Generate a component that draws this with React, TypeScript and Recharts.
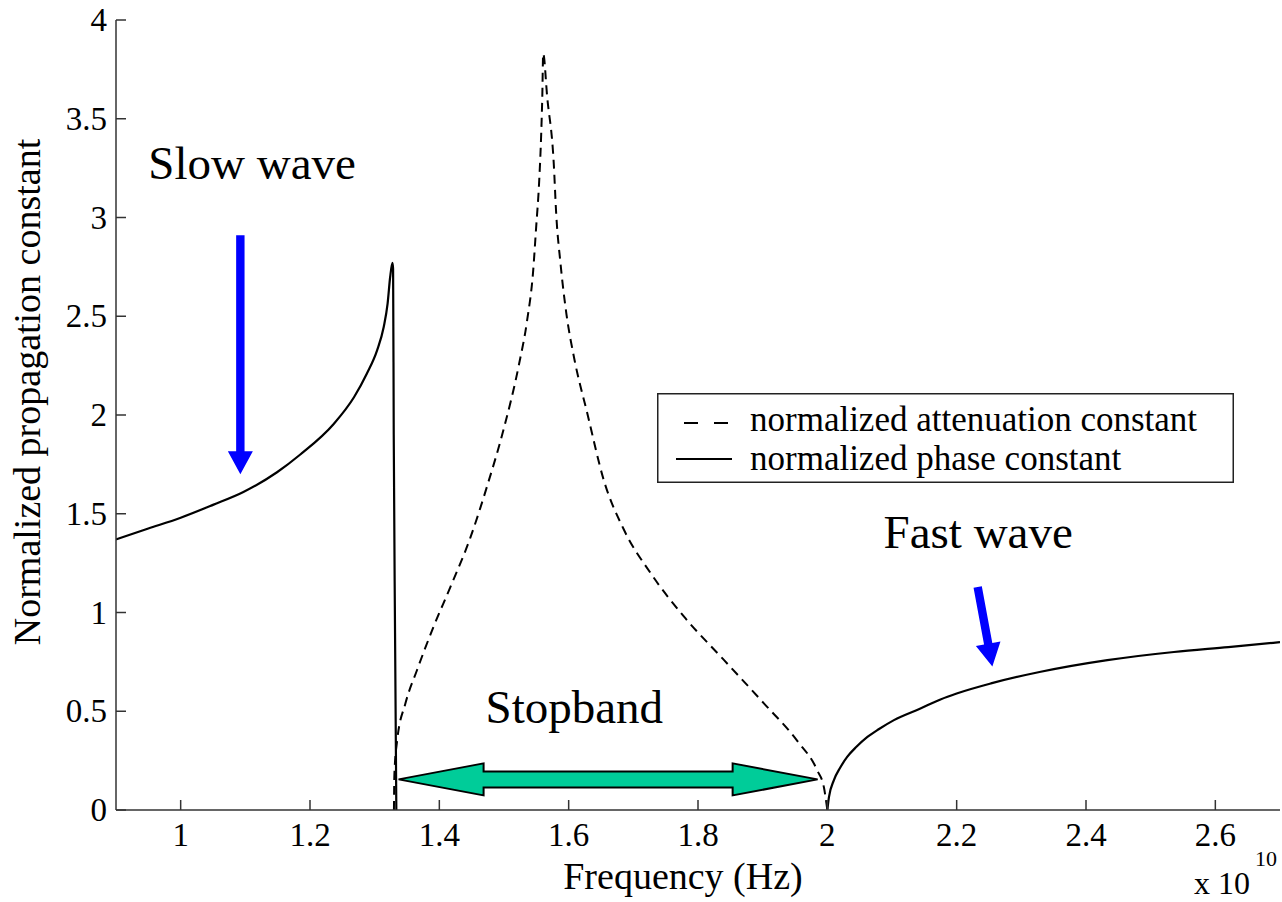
import React from 'react';
import { LineChart, Line, XAxis, YAxis, ReferenceLine, ReferenceDot, Legend } from 'recharts';

const FONT = '"Liberation Serif", "Times New Roman", serif';
const AXIS_COLOR = '#333333';

// Frequency axis (x 10^10 Hz) and value axis ticks
const xTicks = [1, 1.2, 1.4, 1.6, 1.8, 2, 2.2, 2.4, 2.6];
const yTicks = [0, 0.5, 1, 1.5, 2, 2.5, 3, 3.5, 4];

// Normalized phase constant below the stopband (slow wave)
const slowFreq = [0.9, 0.95, 1.0, 1.05, 1.097, 1.149, 1.185, 1.237, 1.268, 1.288, 1.304, 1.314, 1.32, 1.324, 1.3275, 1.3285, 1.3295, 1.3315, 1.3335];
const slowPhase = [1.37, 1.425, 1.48, 1.545, 1.61, 1.71, 1.8, 1.956, 2.09, 2.21, 2.33, 2.446, 2.564, 2.7, 2.77, 2.74, 1.9, 0.9, 0];

// Normalized phase constant above the stopband (fast wave)
const fastFreq = [2.0, 2.0025, 2.01, 2.02, 2.031, 2.045, 2.062, 2.08, 2.103, 2.144, 2.175, 2.2, 2.253, 2.33, 2.433, 2.536, 2.62, 2.7];
const fastPhase = [0, 0.065, 0.15, 0.215, 0.27, 0.32, 0.37, 0.41, 0.455, 0.514, 0.56, 0.59, 0.641, 0.7, 0.759, 0.8, 0.825, 0.85];

// Normalized attenuation constant inside the stopband
const attenFreq = [1.3298, 1.3305, 1.3347, 1.3476, 1.3657, 1.3913, 1.4172, 1.4481, 1.4739, 1.4996, 1.5228, 1.5358, 1.5451, 1.5495, 1.5545, 1.5575, 1.5592, 1.5606, 1.5668, 1.577, 1.5807, 1.5873, 1.5966, 1.609, 1.6287, 1.6543, 1.6853, 1.7266, 1.7781, 1.84, 1.9019, 1.9535, 1.9845, 1.9947, 2.0];
const attenVals = [0, 0.18, 0.35, 0.54, 0.71, 0.93, 1.13, 1.38, 1.64, 1.93, 2.25, 2.48, 2.73, 2.94, 3.19, 3.42, 3.61, 3.83, 3.61, 3.27, 3.02, 2.77, 2.51, 2.28, 2.01, 1.67, 1.42, 1.2, 0.98, 0.76, 0.54, 0.35, 0.2, 0.115, 0];

const seriesNames = ['normalized attenuation constant', 'normalized phase constant'];

// Annotation anchors in data coordinates
const slowArrow = [{ x: 1.0923, y: 2.91 }, { x: 1.0923, y: 1.7 }];
const fastArrow = [{ x: 2.2325, y: 1.129 }, { x: 2.2552, y: 0.727 }];
const stopbandArrow = [{ x: 1.337, y: 0.155 }, { x: 1.985, y: 0.155 }];
const annotations = [
  { text: 'Slow wave', x: 0.95, y: 3.194 },
  { text: 'Stopband', x: 1.4714, y: 0.438 },
  { text: 'Fast wave', x: 2.087, y: 1.325 },
];

const zip = (xs: number[], ys: number[]) => xs.map((x, i) => ({ x, y: ys[i] }));
const slowData = zip(slowFreq, slowPhase);
const fastData = zip(fastFreq, fastPhase);
const attenData = zip(attenFreq, attenVals);

const fmt = (v: number) => String(v);

function arrowPoints(x1: number, y1: number, x2: number, y2: number, shaft: number, head: number, headLen: number, both: boolean) {
  const dx = x2 - x1;
  const dy = y2 - y1;
  const L = Math.hypot(dx, dy) || 1;
  const ux = dx / L;
  const uy = dy / L;
  const nx = -uy;
  const ny = ux;
  const b2x = x2 - ux * headLen;
  const b2y = y2 - uy * headLen;
  const pts: [number, number][] = [];
  if (both) {
    const b1x = x1 + ux * headLen;
    const b1y = y1 + uy * headLen;
    pts.push([x1, y1]);
    pts.push([b1x + nx * head, b1y + ny * head]);
    pts.push([b1x + nx * shaft, b1y + ny * shaft]);
    pts.push([b2x + nx * shaft, b2y + ny * shaft]);
    pts.push([b2x + nx * head, b2y + ny * head]);
    pts.push([x2, y2]);
    pts.push([b2x - nx * head, b2y - ny * head]);
    pts.push([b2x - nx * shaft, b2y - ny * shaft]);
    pts.push([b1x - nx * shaft, b1y - ny * shaft]);
    pts.push([b1x - nx * head, b1y - ny * head]);
  } else {
    pts.push([x1 + nx * shaft, y1 + ny * shaft]);
    pts.push([b2x + nx * shaft, b2y + ny * shaft]);
    pts.push([b2x + nx * head, b2y + ny * head]);
    pts.push([x2, y2]);
    pts.push([b2x - nx * head, b2y - ny * head]);
    pts.push([b2x - nx * shaft, b2y - ny * shaft]);
    pts.push([x1 - nx * shaft, y1 - ny * shaft]);
  }
  return pts.map((p) => `${p[0].toFixed(2)},${p[1].toFixed(2)}`).join(' ');
}

const BlueArrow = (props: any) => (
  <polygon points={arrowPoints(props.x1, props.y1, props.x2, props.y2, 4.2, 12.5, 23, false)} fill="#0000FF" />
);

const StopbandArrow = (props: any) => (
  <polygon
    points={arrowPoints(props.x1, props.y1, props.x2, props.y2, 8, 16, 85, true)}
    fill="#00CC99"
    stroke="#000"
    strokeWidth={2}
    strokeLinejoin="miter"
  />
);

const AnnotationText = (text: string) => (props: any) => (
  <text x={props.cx} y={props.cy} fontFamily={FONT} fontSize={47} fill="#000" textAnchor="start">
    {text}
  </text>
);

const BottomTick = (props: any) => {
  const { x, y, payload } = props;
  return (
    <g>
      <line x1={x} y1={y} x2={x} y2={y - 10} stroke={AXIS_COLOR} strokeWidth={1.5} />
      <text x={x} y={y + 36} textAnchor="middle" fontFamily={FONT} fontSize={33} fill="#000">
        {fmt(payload.value)}
      </text>
    </g>
  );
};

const TopTick = (props: any) => {
  const { x, y } = props;
  return <line x1={x} y1={y} x2={x} y2={y + 10} stroke={AXIS_COLOR} strokeWidth={1.5} />;
};

const LeftTick = (props: any) => {
  const { x, y, payload } = props;
  return (
    <g>
      <line x1={x} y1={y} x2={x + 10} y2={y} stroke={AXIS_COLOR} strokeWidth={1.5} />
      <text x={x - 9} y={y + 11} textAnchor="end" fontFamily={FONT} fontSize={33} fill="#000">
        {fmt(payload.value)}
      </text>
    </g>
  );
};

const RightTick = (props: any) => {
  const { x, y } = props;
  return <line x1={x} y1={y} x2={x - 10} y2={y} stroke={AXIS_COLOR} strokeWidth={1.5} />;
};

const XTitle = (props: any) => {
  const vb = props.viewBox || { x: 116, y: 810, width: 1164, height: 92 };
  return (
    <g>
      <text x={vb.x + 567} y={vb.y + 79} textAnchor="middle" fontFamily={FONT} fontSize={38} fill="#000">
        Frequency (Hz)
      </text>
      <text x={vb.x + 1078} y={vb.y + 84} textAnchor="start" fontFamily={FONT} fontSize={32} fill="#000">
        x 10
      </text>
      <text x={vb.x + 1139} y={vb.y + 56} textAnchor="start" fontFamily={FONT} fontSize={22} fill="#000">
        10
      </text>
    </g>
  );
};

const YTitle = (props: any) => {
  const vb = props.viewBox || { x: 0, y: 20, width: 116, height: 790 };
  const cx = vb.x + 40;
  const cy = vb.y + 372;
  return (
    <text
      x={cx}
      y={cy}
      transform={`rotate(-90, ${cx}, ${cy})`}
      textAnchor="middle"
      fontFamily={FONT}
      fontSize={38}
      fill="#000"
    >
      Normalized propagation constant
    </text>
  );
};

const LegendBox = () => (
  <svg width={577} height={90} style={{ display: 'block' }}>
    <rect x={0.75} y={0.75} width={575.5} height={88.5} fill="#fff" stroke="#222" strokeWidth={1.5} />
    <line x1={27} y1={30} x2={71} y2={30} stroke="#000" strokeWidth={2} strokeDasharray="14 16" />
    <text x={93} y={38} fontFamily={FONT} fontSize={35} fill="#000">
      {seriesNames[0]}
    </text>
    <line x1={19} y1={66} x2={75} y2={66} stroke="#000" strokeWidth={2} />
    <text x={93} y={77} fontFamily={FONT} fontSize={35} fill="#000">
      {seriesNames[1]}
    </text>
  </svg>
);

export default function App() {
  return (
    <div style={{ position: 'absolute', left: 0, top: 0, width: 1282, height: 902, background: '#fff' }}>
      <LineChart width={1282} height={902} margin={{ top: 20, right: 2, bottom: 0, left: 0 }}>
        <XAxis
          dataKey="x"
          type="number"
          domain={[0.9, 2.7]}
          ticks={xTicks}
          interval={0}
          allowDataOverflow
          height={92}
          tickSize={0}
          tickMargin={0}
          tickLine={false}
          tick={BottomTick}
          axisLine={{ stroke: AXIS_COLOR, strokeWidth: 1.5 }}
          label={XTitle}
        />
        <XAxis
          xAxisId="top"
          orientation="top"
          dataKey="x"
          type="number"
          domain={[0.9, 2.7]}
          ticks={xTicks}
          interval={0}
          allowDataOverflow
          height={0}
          tickSize={0}
          tickMargin={0}
          tickLine={false}
          tick={TopTick}
          axisLine={{ stroke: AXIS_COLOR, strokeWidth: 1.5 }}
        />
        <YAxis
          type="number"
          domain={[0, 4]}
          ticks={yTicks}
          interval={0}
          allowDataOverflow
          width={116}
          tickSize={0}
          tickMargin={0}
          tickLine={false}
          tick={LeftTick}
          axisLine={{ stroke: AXIS_COLOR, strokeWidth: 1.5 }}
          label={YTitle}
        />
        <YAxis
          yAxisId="right"
          orientation="right"
          type="number"
          domain={[0, 4]}
          ticks={yTicks}
          interval={0}
          allowDataOverflow
          width={0}
          tickSize={0}
          tickMargin={0}
          tickLine={false}
          tick={RightTick}
          axisLine={{ stroke: AXIS_COLOR, strokeWidth: 1.5 }}
        />
        <Line
          data={attenData}
          dataKey="y"
          name={seriesNames[0]}
          type="monotone"
          stroke="#000"
          strokeWidth={2}
          strokeDasharray="9 6"
          dot={false}
          activeDot={false}
          isAnimationActive={false}
        />
        <Line
          data={slowData}
          dataKey="y"
          name={seriesNames[1]}
          type="monotone"
          stroke="#000"
          strokeWidth={2.2}
          dot={false}
          activeDot={false}
          isAnimationActive={false}
        />
        <Line
          data={fastData}
          dataKey="y"
          name={seriesNames[1]}
          legendType="none"
          type="monotone"
          stroke="#000"
          strokeWidth={2.2}
          dot={false}
          activeDot={false}
          isAnimationActive={false}
        />
        <ReferenceLine segment={slowArrow} shape={BlueArrow} />
        <ReferenceLine segment={fastArrow} shape={BlueArrow} />
        <ReferenceLine segment={stopbandArrow} shape={StopbandArrow} />
        {annotations.map((a) => (
          <ReferenceDot key={a.text} x={a.x} y={a.y} r={0} shape={AnnotationText(a.text)} />
        ))}
        <Legend
          layout="horizontal"
          verticalAlign="middle"
          align="center"
          content={LegendBox}
          wrapperStyle={{ left: 657, top: 393, width: 577, height: 90, margin: 0, padding: 0 }}
        />
      </LineChart>
    </div>
  );
}
